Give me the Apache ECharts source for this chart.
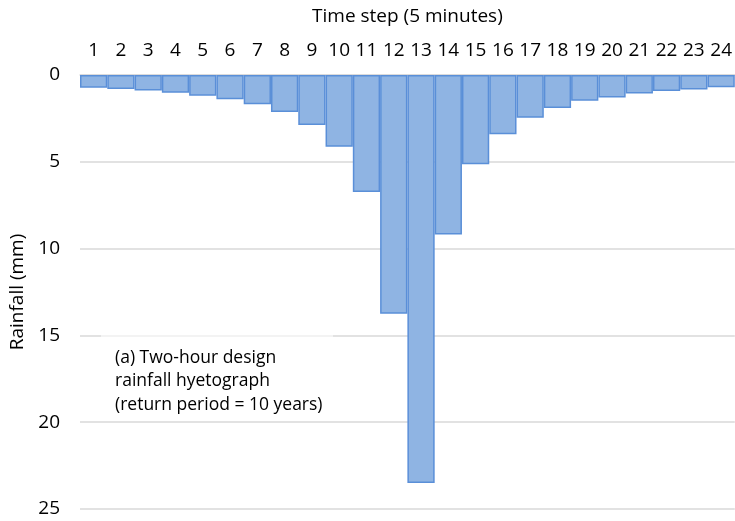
<!DOCTYPE html>
<html>
<head>
<meta charset="utf-8">
<script src="https://cdn.jsdelivr.net/npm/echarts@6/dist/echarts.min.js"></script>
<style>
  html, body { margin: 0; padding: 0; background: #fff; }
  #chart { width: 735px; height: 521px; }
</style>
</head>
<body>
<div id="chart"></div>
<script>
// Two-hour design storm, 5-minute time steps
const timeSteps = ['1','2','3','4','5','6','7','8','9','10','11','12','13','14','15','16','17','18','19','20','21','22','23','24'];
const rainfall = [0.73, 0.81, 0.90, 1.02, 1.19, 1.40, 1.69, 2.13, 2.88, 4.13, 6.74, 13.76,
                  23.5, 9.19, 5.14, 3.42, 2.46, 1.90, 1.48, 1.29, 1.06, 0.92, 0.83, 0.71];
const yTicks = [0, 5, 10, 15, 20, 25];
const noteLines = ['(a) Two-hour design', 'rainfall hyetograph', '(return period = 10 years)'];

const font = '"Open Sans", sans-serif';
const chart = echarts.init(document.getElementById('chart'), null, { renderer: 'canvas' });

chart.setOption({
  animation: false,
  backgroundColor: '#ffffff',
  grid: { left: 80, right: 0, top: 75, bottom: 12, containLabel: false },
  xAxis: {
    type: 'category',
    position: 'top',
    data: timeSteps,
    name: 'Time step (5 minutes)',
    nameLocation: 'middle',
    nameGap: 49,
    nameTextStyle: { fontFamily: font, fontSize: 19, color: '#000' },
    axisLine: { show: true, lineStyle: { color: '#D9D9D9', width: 1.5 } },
    axisTick: { show: false },
    axisLabel: { fontFamily: font, fontSize: 19, color: '#000', margin: 15, interval: 0 },
    splitLine: { show: false }
  },
  yAxis: {
    type: 'value',
    inverse: true,
    min: yTicks[0],
    max: yTicks[yTicks.length - 1],
    interval: 5,
    name: 'Rainfall (mm)',
    nameLocation: 'middle',
    nameRotate: 90,
    nameGap: 46,
    nameTextStyle: { fontFamily: font, fontSize: 19, color: '#000' },
    axisLine: { show: false },
    axisTick: { show: false },
    axisLabel: { fontFamily: font, fontSize: 19, color: '#000', margin: 20 },
    splitLine: { show: true, lineStyle: { color: '#D9D9D9', width: 1.5 } }
  },
  series: [{
    type: 'bar',
    data: rainfall,
    barWidth: '100%',
    barCategoryGap: 0,
    itemStyle: { color: '#8FB4E3', borderColor: '#5A8FD8', borderWidth: 1.5 },
    z: 3
  }],
  graphic: [
    {
      type: 'rect',
      z: 2,
      shape: { x: 101, y: 331, width: 232, height: 86 },
      style: { fill: 'rgba(255,255,255,0.6)' }
    },
    {
      type: 'text',
      z: 10,
      left: 115,
      top: 346,
      style: {
        text: noteLines.join('\n'),
        font: '17.5px ' + font,
        lineHeight: 23.5,
        fill: '#000'
      }
    }
  ]
});
</script>
</body>
</html>
